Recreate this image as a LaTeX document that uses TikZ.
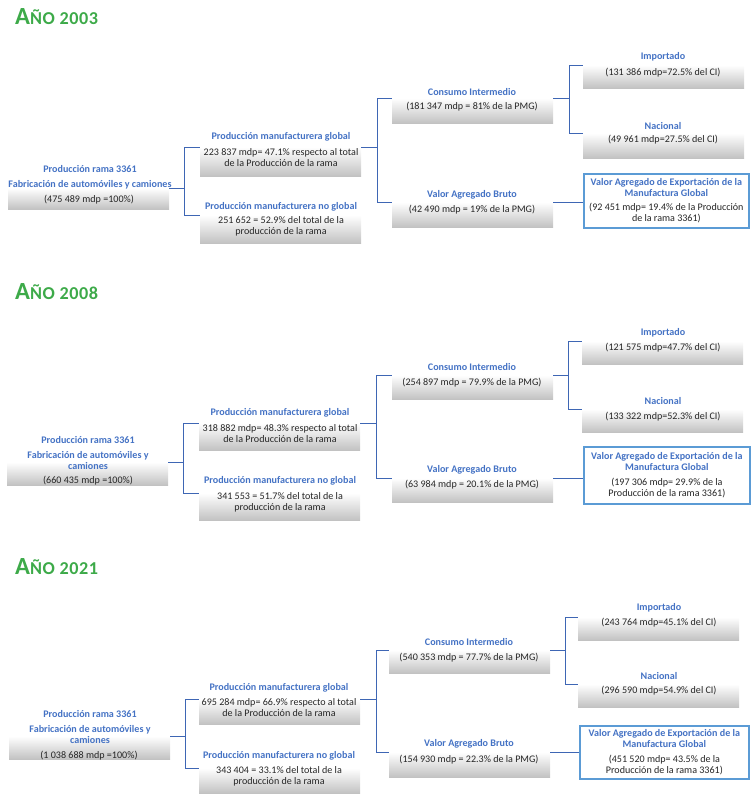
\documentclass[tikz,border=0pt]{standalone}
\usepackage{fontspec}
\setmainfont{Carlito}
\usepackage{tikz}

\definecolor{yeargreen}{RGB}{61,170,73}
\definecolor{headblue}{RGB}{68,114,196}
\definecolor{linkblue}{RGB}{62,102,180}
\definecolor{vaeblue}{RGB}{91,155,213}
\definecolor{valgray}{RGB}{38,38,38}
\newcommand{\vaehead}[1]{\textbf{\textcolor{headblue}{#1}}}

\begin{document}
\begin{tikzpicture}[x=0.03cm, y=-0.03cm,
        box/.style={anchor=north west, top color=white, bottom color=black!24, minimum width=4.83cm, inner sep=0pt},
        val/.style={inner sep=0pt, align=center, text=valgray, font=\fontsize{8.6}{9.4}\selectfont},
        vaebox/.style={anchor=north west, draw=vaeblue, line width=1.5pt, fill=white, inner sep=1pt, align=center, text=valgray, font=\fontsize{8.6}{9.4}\selectfont},
        head/.style={text=headblue, inner sep=0pt, align=center, font=\fontsize{8.6}{9.4}\selectfont\bfseries},
        year/.style={anchor=west, inner sep=0pt, text=yeargreen, font=\fontsize{15.5}{16}\selectfont\bfseries\addfontfeatures{LetterSpace=3}},
        link/.style={draw=linkblue, line width=0.8pt}]
        \useasboundingbox (0,0) rectangle (755,800);

        \node[year] (y03) at (15,17) {{\fontsize{21}{21}\selectfont A}ÑO 2003};
        \node[box, minimum height=0.63cm] (root03) at (8,188) {};
        \node[box, minimum height=0.87cm] (glob03) at (200,147) {};
        \node[box, minimum height=0.84cm] (nglob03) at (200,215) {};
        \node[box, minimum height=0.75cm] (ci03) at (392,98) {};
        \node[box, minimum height=0.75cm] (vab03) at (392,202) {};
        \node[box, minimum height=0.69cm] (imp03) at (583,65) {};
        \node[box, minimum height=0.75cm] (nac03) at (583,133) {};
        \node[vaebox, minimum width=4.95cm, minimum height=1.62cm] (vae03) at (583,173) {\vaehead{Valor Agregado de Exportación de la}\\\vaehead{Manufactura Global}\\[3pt](92 451 mdp= 19.4\% de la Producción\\de la rama 3361)};
        \node[val] (root03v) at (89,200) {(475 489 mdp =100\%)};
        \node[val] (glob03v) at (281,158) {223 837 mdp= 47.1\% respecto al total\\de la Producción de la rama};
        \node[val] (nglob03v) at (281,226) {251 652 = 52.9\% del total de la\\producción de la rama};
        \node[val] (ci03v) at (472,107) {(181 347 mdp = 81\% de la PMG)};
        \node[val] (vab03v) at (472,210) {(42 490 mdp = 19\% de la PMG)};
        \node[val] (imp03v) at (663,73) {(131 386 mdp=72.5\% del CI)};
        \node[val] (nac03v) at (663,140) {(49 961 mdp=27.5\% del CI)};
        \node[head] (root03t) at (90,177.5) {Producción rama 3361\\[3.5pt]Fabricación de automóviles y camiones};
        \node[head] (glob03t) at (281,137) {Producción manufacturera global};
        \node[head] (nglob03t) at (281,207) {Producción manufacturera no global};
        \node[head] (ci03t) at (472,92) {Consumo Intermedio};
        \node[head] (vab03t) at (472,195) {Valor Agregado Bruto};
        \node[head] (imp03t) at (663,57) {Importado};
        \node[head] (nac03t) at (663,126) {Nacional};

        \draw[link] (root03.north east) -- ++(15,0) |- (glob03.north west);
        \draw[link] (root03.north east) -- ++(15,0) |- (nglob03.north west);
        \draw[link] (glob03.north east) -- ++(16,0) |- (ci03.north west);
        \draw[link] (glob03.north east) -- ++(16,0) |- (vab03.north west);
        \draw[link] (ci03.north east) -- ++(16,0) |- (imp03.north west);
        \draw[link] (ci03.north east) -- ++(16,0) |- (nac03.north west);
        \draw[link] (vab03.north east) -- (vab03.north east -| vae03.west);

        \node[year] (y08) at (15,292) {{\fontsize{21}{21}\selectfont A}ÑO 2008};
        \node[box, minimum height=0.69cm] (root08) at (7,462) {};
        \node[box, minimum height=0.81cm] (glob08) at (199,423) {};
        \node[box, minimum height=0.81cm] (nglob08) at (199,493) {};
        \node[box, minimum height=0.72cm] (ci08) at (392,375) {};
        \node[box, minimum height=0.72cm] (vab08) at (392,478) {};
        \node[box, minimum height=0.69cm] (imp08) at (582,341) {};
        \node[box, minimum height=0.69cm] (nac08) at (582,409) {};
        \node[vaebox, minimum width=4.98cm, minimum height=1.71cm] (vae08) at (583,446) {\vaehead{Valor Agregado de Exportación de la}\\\vaehead{Manufactura Global}\\[3pt](197 306 mdp= 29.9\% de la\\Producción de la rama 3361)};
        \node[val] (root08v) at (88,481) {(660 435 mdp =100\%)};
        \node[val] (glob08v) at (280,433.5) {318 882 mdp= 48.3\% respecto al total\\de la Producción de la rama};
        \node[val] (nglob08v) at (280,502) {341 553 = 51.7\% del total de la\\producción de la rama};
        \node[val] (ci08v) at (472,383) {(254 897 mdp = 79.9\% de la PMG)};
        \node[val] (vab08v) at (472,485) {(63 984 mdp = 20.1\% de la PMG)};
        \node[val] (imp08v) at (663,348) {(121 575 mdp=47.7\% del CI)};
        \node[val] (nac08v) at (663,417) {(133 322 mdp=52.3\% del CI)};
        \node[head] (root08t) at (88,453) {Producción rama 3361\\[3.5pt]Fabricación de automóviles y\\camiones};
        \node[head] (glob08t) at (280,413) {Producción manufacturera global};
        \node[head] (nglob08t) at (280,481) {Producción manufacturera no global};
        \node[head] (ci08t) at (472,367) {Consumo Intermedio};
        \node[head] (vab08t) at (472,470) {Valor Agregado Bruto};
        \node[head] (imp08t) at (663,333) {Importado};
        \node[head] (nac08t) at (663,401) {Nacional};

        \draw[link] (root08.north east) -- ++(15,0) |- (glob08.north west);
        \draw[link] (root08.north east) -- ++(15,0) |- (nglob08.north west);
        \draw[link] (glob08.north east) -- ++(16,0) |- (ci08.north west);
        \draw[link] (glob08.north east) -- ++(16,0) |- (vab08.north west);
        \draw[link] (ci08.north east) -- ++(15,0) |- (imp08.north west);
        \draw[link] (ci08.north east) -- ++(15,0) |- (nac08.north west);
        \draw[link] (vab08.north east) -- (vab08.north east -| vae08.west);

        \node[year] (y21) at (15,567) {{\fontsize{21}{21}\selectfont A}ÑO 2021};
        \node[box, minimum height=0.69cm] (root21) at (9,736) {};
        \node[box, minimum height=0.75cm] (glob21) at (199,699) {};
        \node[box, minimum height=0.75cm] (nglob21) at (199,768) {};
        \node[box, minimum height=0.69cm] (ci21) at (389,650) {};
        \node[box, minimum height=0.75cm] (vab21) at (389,752) {};
        \node[box, minimum height=0.69cm] (imp21) at (578,617) {};
        \node[box, minimum height=0.69cm] (nac21) at (578,684) {};
        \node[vaebox, minimum width=5.07cm, minimum height=1.59cm] (vae21) at (579,725) {\vaehead{Valor Agregado de Exportación de la}\\\vaehead{Manufactura Global}\\[3pt](451 520 mdp= 43.5\% de la\\Producción de la rama 3361)};
        \node[val] (root21v) at (89,756) {(1 038 688 mdp =100\%)};
        \node[val] (glob21v) at (279,708) {695 284 mdp= 66.9\% respecto al total\\de la Producción de la rama};
        \node[val] (nglob21v) at (279,776) {343 404 = 33.1\% del total de la\\producción de la rama};
        \node[val] (ci21v) at (469,658) {(540 353 mdp = 77.7\% de la PMG)};
        \node[val] (vab21v) at (469,760) {(154 930 mdp = 22.3\% de la PMG)};
        \node[val] (imp21v) at (659,623) {(243 764 mdp=45.1\% del CI)};
        \node[val] (nac21v) at (659,691) {(296 590 mdp=54.9\% del CI)};
        \node[head] (root21t) at (90,727) {Producción rama 3361\\[3.5pt]Fabricación de automóviles y\\camiones};
        \node[head] (glob21t) at (279,688) {Producción manufacturera global};
        \node[head] (nglob21t) at (279,756) {Producción manufacturera no global};
        \node[head] (ci21t) at (469,642) {Consumo Intermedio};
        \node[head] (vab21t) at (469,744) {Valor Agregado Bruto};
        \node[head] (imp21t) at (659,608) {Importado};
        \node[head] (nac21t) at (659,676) {Nacional};

        \draw[link] (root21.north east) -- ++(15,0) |- (glob21.north west);
        \draw[link] (root21.north east) -- ++(15,0) |- (nglob21.north west);
        \draw[link] (glob21.north east) -- ++(16,0) |- (ci21.north west);
        \draw[link] (glob21.north east) -- ++(16,0) |- (vab21.north west);
        \draw[link] (ci21.north east) -- ++(15,0) |- (imp21.north west);
        \draw[link] (ci21.north east) -- ++(15,0) |- (nac21.north west);
        \draw[link] (vab21.north east) -- (vab21.north east -| vae21.west);
    \end{tikzpicture}
\end{document}
